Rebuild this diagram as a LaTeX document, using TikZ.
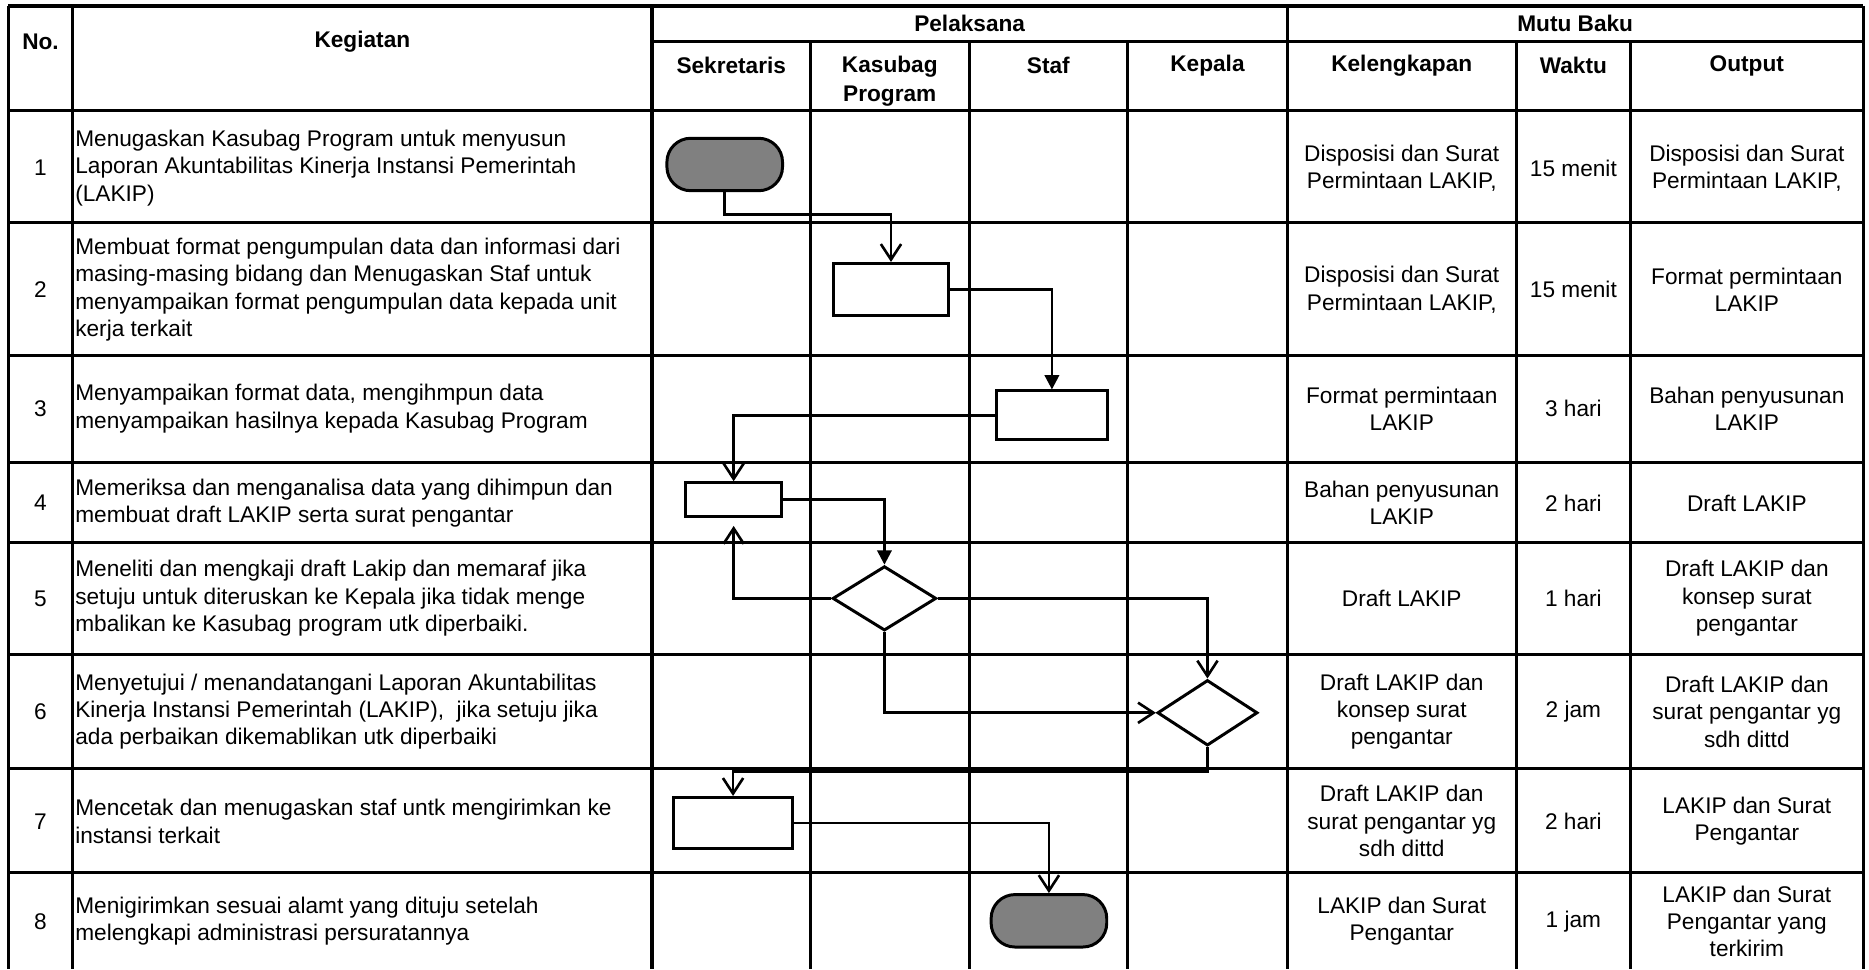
\documentclass[tikz,border=0pt]{standalone}
\usepackage{fontspec}
\setmainfont{Liberation Sans}
\usetikzlibrary{arrows.meta,shapes.geometric}
\definecolor{termgray}{HTML}{808080}
\begin{document}
\begin{tikzpicture}[x=1pt,y=-1pt,
  gridline/.style={line width=2.6pt},
  term/.style={draw, line width=2.5pt, fill=termgray, rounded corners=20pt, minimum width=97pt, minimum height=44pt, inner sep=0pt},
  proc/.style={draw, line width=2.5pt, fill=white, inner sep=0pt},
  dec/.style={diamond, draw, line width=2.5pt, fill=white, inner sep=0pt},
  con/.style={line width=2.2pt},
  openarr/.style={-{Straight Barb[length=13pt,width=17pt,line width=2.2pt]}},
  fillarr/.style={-{Triangle[length=12pt,width=12pt]}},
  txt/.style={font=\fontsize{19}{23}\selectfont, inner sep=0pt, align=center},
  lefttxt/.style={font=\fontsize{19}{23}\selectfont, inner sep=0pt, align=left, anchor=west},
  hdr/.style={font=\fontsize{19}{24.5}\selectfont\bfseries, inner sep=0pt, align=center}
]
\useasboundingbox (0,0) rectangle (1568,813);

% ---------- grid ----------
\draw[gridline] (7,5) -- (1563,5);
\draw[gridline] (547,35) -- (1563,35);
\foreach \yy in {93,187,298,388,455,549,645,732}
  \draw[gridline] (7,\yy) -- (1563,\yy);
\foreach \xx in {7,61,547,1080,1563}
  \draw[gridline] (\xx,5) -- (\xx,813);
\foreach \xx in {680,813,946,1272,1368}
  \draw[gridline] (\xx,35) -- (\xx,813);

% ---------- headers ----------
\node[hdr] (hno) at (34,35) {No.};
\node[hdr] (hkeg) at (304,35) {Kegiatan};
\node[hdr] (hpel) at (813.5,20) {Pelaksana};
\node[hdr] (hmutu) at (1321.5,20) {Mutu Baku};
\node[hdr] (hsek) at (613.5,55) {Sekretaris};
\node[hdr] (hkas) at (746.5,68) {Kasubag\\Program};
\node[hdr] (hstaf) at (879.5,55) {Staf};
\node[hdr] (hkep) at (1013,55) {Kepala};
\node[hdr] (hkel) at (1176,55) {Kelengkapan};
\node[hdr] (hwak) at (1320,55) {Waktu};
\node[hdr] (hout) at (1465.5,55) {Output};

% ---------- row texts ----------
% row 1
\node[txt] (n1) at (34,141) {1};
\node[lefttxt] (k1) at (63,141) {Menugaskan Kasubag Program untuk menyusun\\Laporan Akuntabilitas Kinerja Instansi Pemerintah\\(LAKIP)};
\node[txt] (l1) at (1176,141) {Disposisi dan Surat\\Permintaan LAKIP,};
\node[txt] (w1) at (1320,141) {15 menit};
\node[txt] (o1) at (1465.5,141) {Disposisi dan Surat\\Permintaan LAKIP,};
% row 2
\node[txt] (n2) at (34,243) {2};
\node[lefttxt] (k2) at (63,243) {Membuat format pengumpulan data dan informasi dari\\masing-masing bidang dan Menugaskan Staf untuk\\menyampaikan format pengumpulan data kepada unit\\kerja terkait};
\node[txt] (l2) at (1176,243) {Disposisi dan Surat\\Permintaan LAKIP,};
\node[txt] (w2) at (1320,243) {15 menit};
\node[txt] (o2) at (1465.5,243) {Format permintaan\\LAKIP};
% row 3
\node[txt] (n3) at (34,343) {3};
\node[lefttxt] (k3) at (63,343) {Menyampaikan format data, mengihmpun data\\menyampaikan hasilnya kepada Kasubag Program};
\node[txt] (l3) at (1176,343) {Format permintaan\\LAKIP};
\node[txt] (w3) at (1320,343) {3 hari};
\node[txt] (o3) at (1465.5,343) {Bahan penyusunan\\LAKIP};
% row 4
\node[txt] (n4) at (34,422) {4};
\node[lefttxt] (k4) at (63,422) {Memeriksa dan menganalisa data yang dihimpun dan\\membuat draft LAKIP serta surat pengantar};
\node[txt] (l4) at (1176,422) {Bahan penyusunan\\LAKIP};
\node[txt] (w4) at (1320,422) {2 hari};
\node[txt] (o4) at (1465.5,422) {Draft LAKIP};
% row 5
\node[txt] (n5) at (34,502) {5};
\node[lefttxt] (k5) at (63,502) {Meneliti dan mengkaji draft Lakip dan memaraf jika\\setuju untuk diteruskan ke Kepala jika tidak menge\\mbalikan ke Kasubag program utk diperbaiki.};
\node[txt] (l5) at (1176,502) {Draft LAKIP};
\node[txt] (w5) at (1320,502) {1 hari};
\node[txt] (o5) at (1465.5,502) {Draft LAKIP dan\\konsep surat\\pengantar};
% row 6
\node[txt] (n6) at (34,597) {6};
\node[lefttxt] (k6) at (63,597) {Menyetujui / menandatangani Laporan Akuntabilitas\\Kinerja Instansi Pemerintah (LAKIP),\ \ jika setuju jika\\ada perbaikan dikemablikan utk diperbaiki};
\node[txt] (l6) at (1176,597) {Draft LAKIP dan\\konsep surat\\pengantar};
\node[txt] (w6) at (1320,597) {2 jam};
\node[txt] (o6) at (1465.5,597) {Draft LAKIP dan\\surat pengantar yg\\sdh dittd};
% row 7
\node[txt] (n7) at (34,689) {7};
\node[lefttxt] (k7) at (63,689) {Mencetak dan menugaskan staf untk mengirimkan ke\\instansi terkait};
\node[txt] (l7) at (1176,689) {Draft LAKIP dan\\surat pengantar yg\\sdh dittd};
\node[txt] (w7) at (1320,689) {2 hari};
\node[txt] (o7) at (1465.5,689) {LAKIP dan Surat\\Pengantar};
% row 8
\node[txt] (n8) at (34,773) {8};
\node[lefttxt] (k8) at (63,773) {Menigirimkan sesuai alamt yang dituju setelah\\melengkapi administrasi persuratannya};
\node[txt] (l8) at (1176,773) {LAKIP dan Surat\\Pengantar};
\node[txt] (w8) at (1320,773) {1 jam};
\node[txt] (o8) at (1465.5,773) {LAKIP dan Surat\\Pengantar yang\\terkirim};

% ---------- flow shapes ----------
\node[term] (start) at (608,138) {};
\node[proc, minimum width=97pt, minimum height=44pt] (box2) at (747.5,243) {};
\node[proc, minimum width=93pt, minimum height=41pt] (box3) at (882.5,348.5) {};
\node[proc, minimum width=81pt, minimum height=28pt] (box4) at (615.5,419) {};
\node[dec, minimum width=87pt, minimum height=54pt] (dia1) at (742,502) {};
\node[dec, minimum width=84pt, minimum height=55pt] (dia2) at (1013,598) {};
\node[proc, minimum width=100pt, minimum height=43pt] (box7) at (615,690.5) {};
\node[term] (stop) at (880,772.5) {};

\coordinate (j1) at (680,180);
\coordinate (j2) at (800,647.5);

% ---------- connectors ----------
\draw[con,openarr] (start.south) |- (j1) -| (box2.north);
\draw[con,fillarr] (box2.east) -| (box3.north);
\draw[con,openarr] (box3.west) -| (box4.north);
\draw[con,fillarr] (box4.east) -| (dia1.north);
\draw[con,openarr,shorten >=7pt] (dia1.west) -| (box4.south);
\draw[con,openarr] (dia1.east) -| (dia2.north);
\draw[con,openarr] (dia1.south) |- (dia2.west);
\draw[con,openarr] (dia2.south) |- (j2) -| (box7.north);
\draw[con,openarr] (box7.east) -| (stop.north);
\end{tikzpicture}
\end{document}
